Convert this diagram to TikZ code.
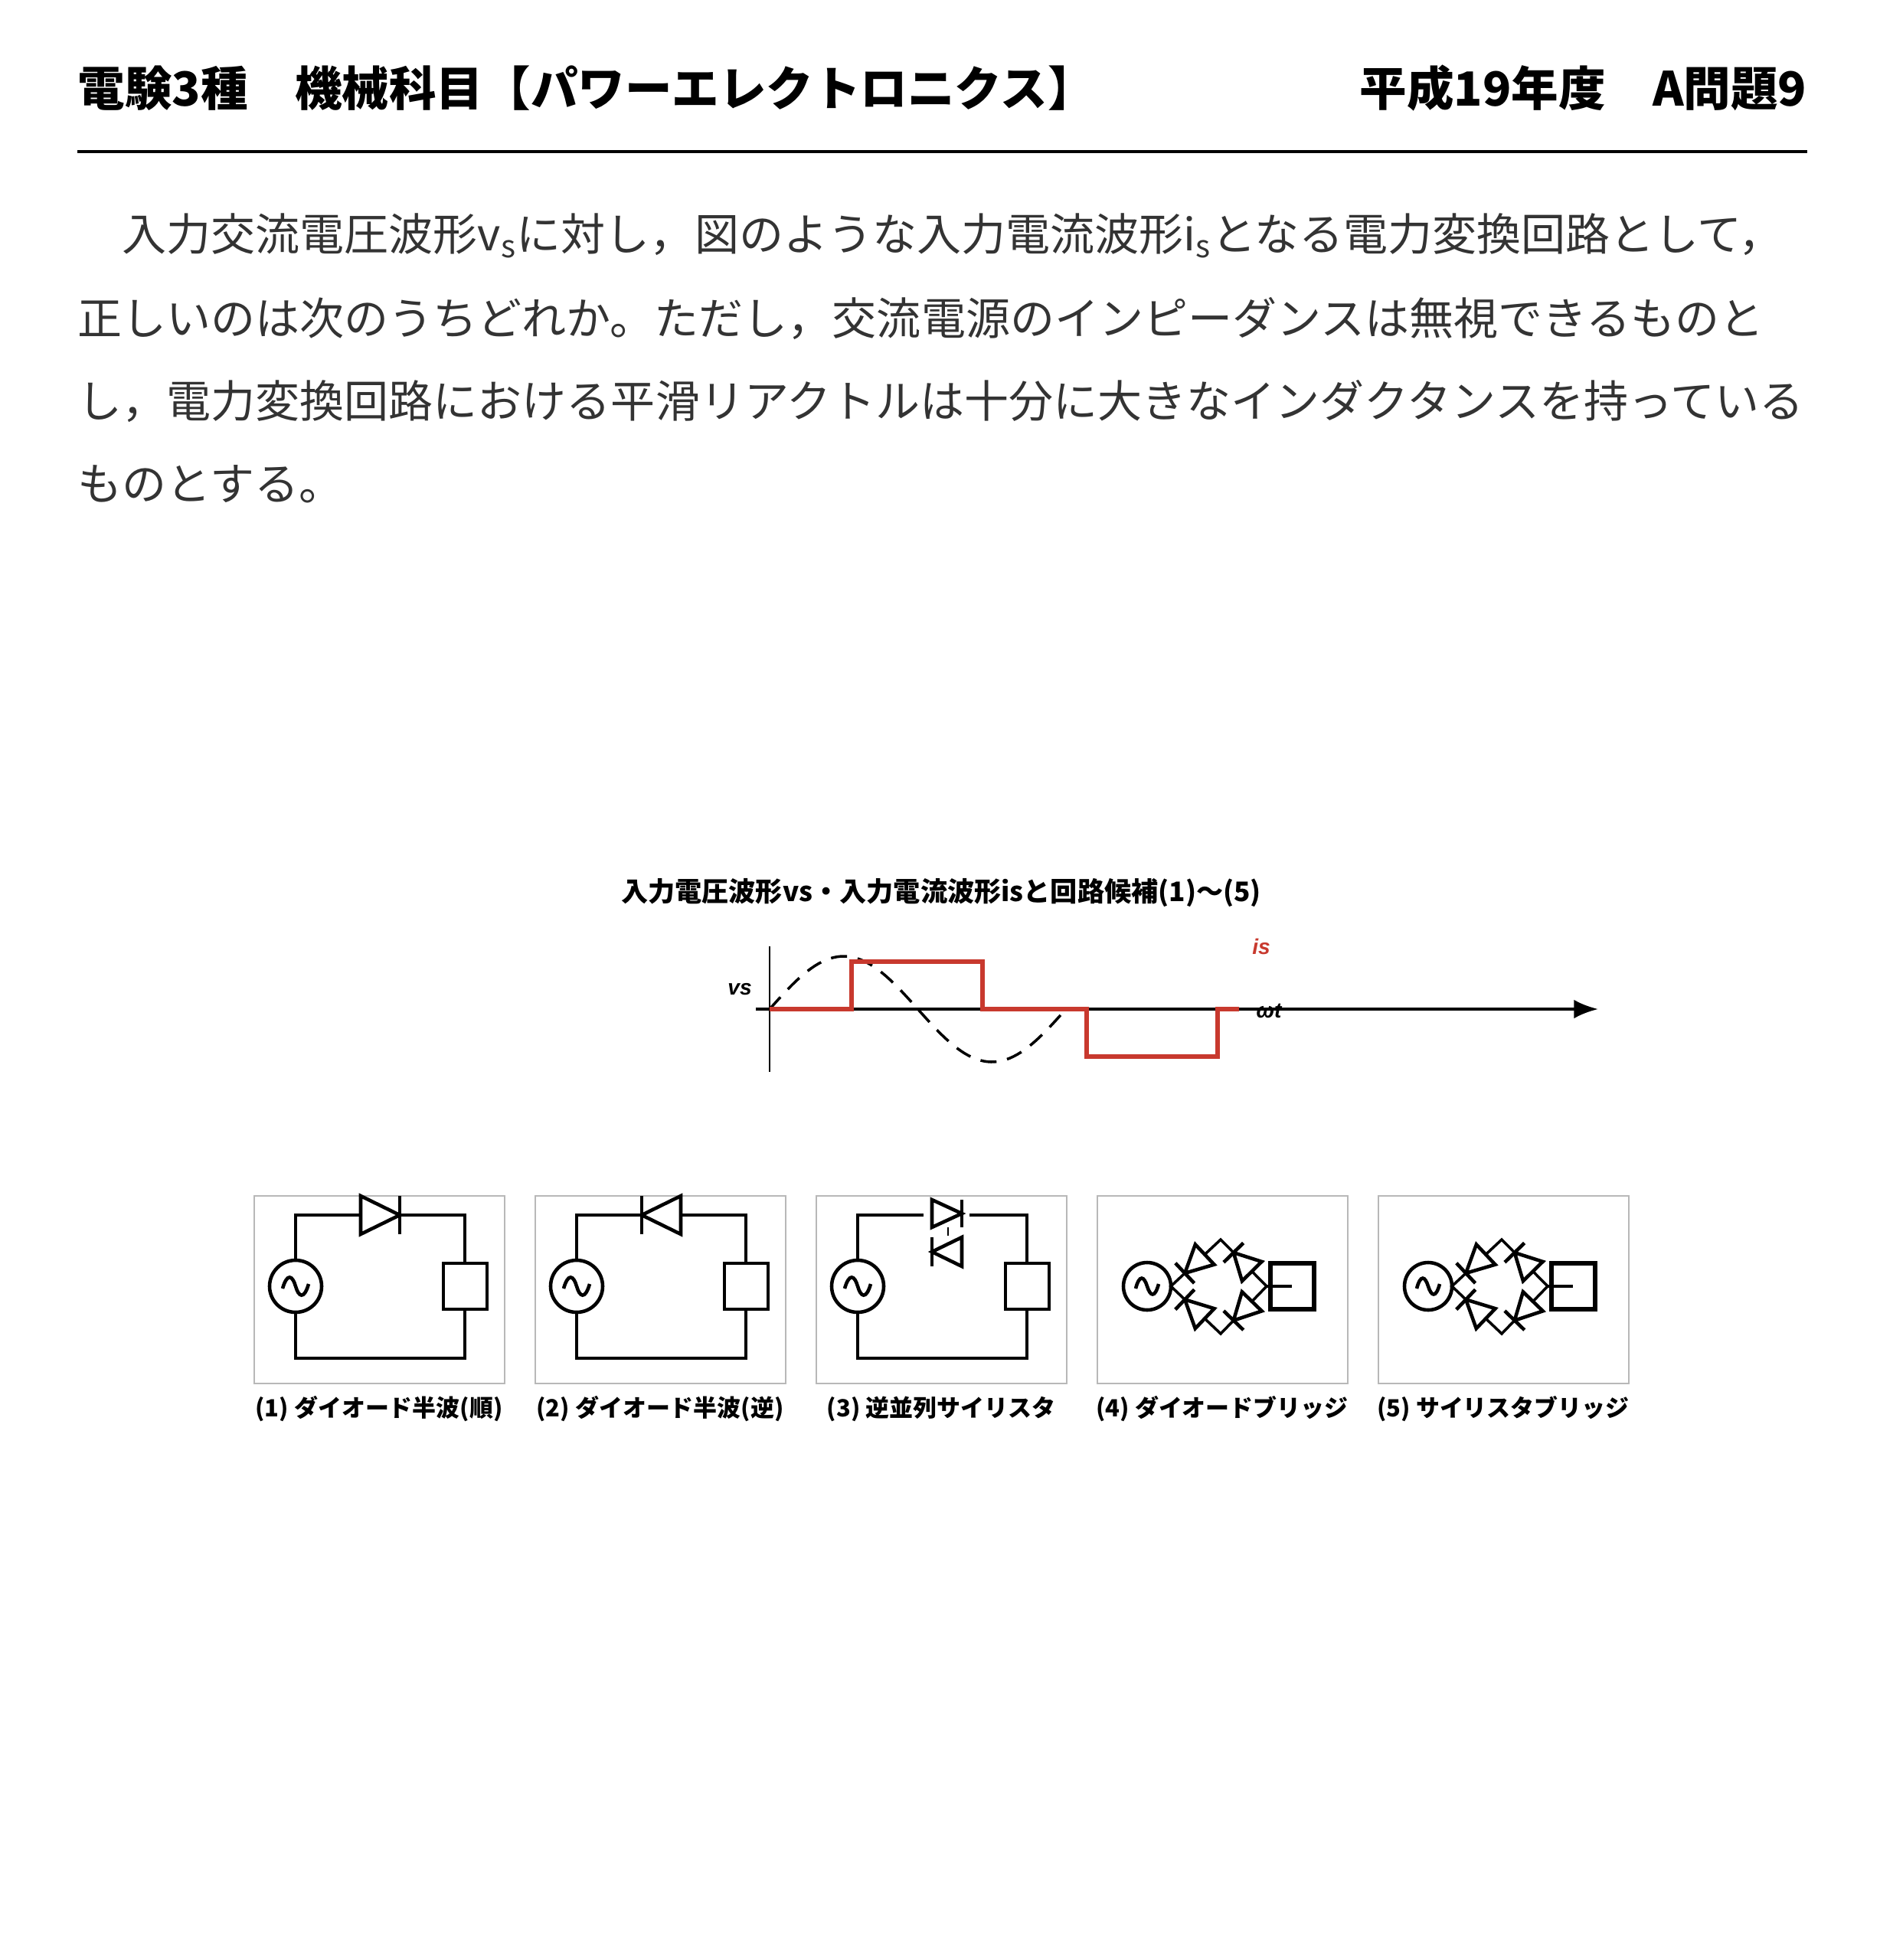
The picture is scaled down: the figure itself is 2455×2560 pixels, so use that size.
\documentclass[tikz,border=0pt]{standalone}
\usepackage{fontspec}
\setmainfont{Noto Sans CJK JP}
\newfontfamily\latinit{Liberation Sans}
\usetikzlibrary{calc,arrows.meta}
\definecolor{bodygray}{HTML}{333333}
\definecolor{isred}{HTML}{C8392E}
\newcommand\mydiode[5]{% bar-side point, other point, frac bar, frac base, half width
 \coordinate (dA) at ($(#1)!#3!(#2)$); \coordinate (dB) at ($(#1)!#4!(#2)$);
 \draw[ckt,fill=white] (dA) -- ($(dB)!#5!90:(dA)$) -- ($(dB)!#5!-90:(dA)$) -- cycle;
 \draw[ckt] ($(dA)!#5!90:(dB)$) -- ($(dA)!#5!-90:(dB)$);}
\begin{document}
\begin{tikzpicture}[x=0.01cm,y=-0.01cm,
 ckt/.style={line width=1.3pt,black,line join=miter},
 box/.style={draw=black!28,line width=0.8pt},
 lbl/.style={font=\fontsize{8.8pt}{10pt}\selectfont\bfseries,anchor=center},
 wlab/.style={font=\fontsize{8pt}{9pt}\selectfont\latinit\bfseries\itshape},
 body/.style={font=\fontsize{16.5pt}{20pt}\selectfont,text=bodygray,anchor=west,inner sep=0pt}]
\useasboundingbox (0,0) rectangle (2455,2560);
% header
\node[anchor=west,inner sep=0pt,font=\fontsize{17.5pt}{20pt}\selectfont\bfseries] (h1) at (101,115) {電験3種　機械科目【パワーエレクトロニクス】};
\node[anchor=east,inner sep=0pt,font=\fontsize{17.5pt}{20pt}\selectfont\bfseries] (h2) at (2360,115) {平成19年度　A問題9};
\draw[line width=1.4pt] (101,198) -- (2360,198);
% body
\node[body] (b1) at (101,308) {　入力交流電圧波形v\textsubscript{s}に対し，図のような入力電流波形i\textsubscript{s}となる電力変換回路として，};
\node[body] (b2) at (101,416) {正しいのは次のうちどれか。ただし，交流電源のインピーダンスは無視できるものと};
\node[body] (b3) at (101,524) {し，電力変換回路における平滑リアクトルは十分に大きなインダクタンスを持っている};
\node[body] (b4) at (101,632) {ものとする。};
% chart title
\node[font=\fontsize{10pt}{12pt}\selectfont\bfseries] (ttl) at (1229,1166) {入力電圧波形vs・入力電流波形isと回路候補(1)～(5)};
% waveform
\coordinate (vt) at (1005,1236); \coordinate (vb) at (1005,1400);
\coordinate (hl) at (987,1318); \coordinate (hr) at (2087,1318);
\draw[line width=0.8pt] (vt) -- (vb);
\draw[line width=1.2pt,-{Latex[length=9,width=7]}] (hl) -- (hr);
\draw[line width=1pt,dashed,dash pattern=on 6pt off 4pt] plot[domain=0:360,samples=80] ({1005+\x*1.075},{1318-69*sin(\x)});
\draw[isred,line width=1.5pt] (1005,1318) -- (1112,1318) -- (1112,1256) -- (1283,1256) -- (1283,1318) -- (1419,1318) -- (1419,1380) -- (1590,1380) -- (1590,1318) -- (1618,1318);
\node[wlab] (lvs) at (966,1292) {vs};
\node[wlab,text=isred] (lis) at (1647,1236) {is};
\node[wlab] (lwt) at (1657,1320) {ωt};
% circuit boxes
\foreach \k/\t in {0/(1) ダイオード半波(順),1/(2) ダイオード半波(逆),2/(3) 逆並列サイリスタ,3/(4) ダイオードブリッジ,4/(5) サイリスタブリッジ}{
 \draw[box] ({332+367*\k},1562) rectangle ({659+367*\k},1807);
 \node[lbl] at ({495+367*\k},1840) {\t};
}
% box 1,2,3 common
\foreach \k in {0,1,2}{
\begin{scope}[shift={({332+367*\k},1562)}]
 \draw[ckt] (54,84) -- (54,25) -- (275,25) -- (275,88);
 \draw[ckt] (54,152) -- (54,212) -- (275,212) -- (275,148);
 \draw[ckt] (54,118) circle (34);
 \draw[ckt] (37,121) .. controls (43,100) and (50,104) .. (54,118) .. controls (58,132) and (65,136) .. (71,115);
 \draw[ckt,fill=white] (247,88) rectangle (304,148);
\end{scope}}
\begin{scope}[shift={(332,1562)}]
 \coordinate (p1) at (190,25); \coordinate (q1) at (139,25);
 \mydiode{p1}{q1}{0}{1}{0.25cm}
\end{scope}
\begin{scope}[shift={(699,1562)}]
 \coordinate (p2) at (139,25); \coordinate (q2) at (190,25);
 \mydiode{p2}{q2}{0}{1}{0.25cm}
\end{scope}
\begin{scope}[shift={(1066,1562)}]
 \fill[white] (140,15) rectangle (200,35);
 \coordinate (p3) at (190,23); \coordinate (q3) at (151,23);
 \mydiode{p3}{q3}{0}{1}{0.18cm}
 \coordinate (p4) at (151,73); \coordinate (q4) at (190,73);
 \mydiode{p4}{q4}{0}{1}{0.19cm}
 \draw[ckt,line width=0.6pt,dashed,dash pattern=on 3pt off 3pt] (172,41) -- (172,60);
\end{scope}
% bridges
\foreach \k in {3,4}{
\begin{scope}[shift={({332+367*\k},1562)}]
 \coordinate (L) at (96,118); \coordinate (T) at (161,57);
 \coordinate (B) at (161,180); \coordinate (R) at (221,118);
 \draw[ckt] (65,118) circle (31);
 \draw[ckt] (50,121) .. controls (55,102) and (61,105) .. (65,118) .. controls (69,131) and (75,134) .. (80,115);
 \draw[ckt,line width=1pt] (L) -- (T) -- (R) -- (B) -- cycle;
 \draw[ckt,line width=1.5pt] (226,88) rectangle (283,148);
 \draw[ckt] (R) -- (254,118);
 \mydiode{L}{T}{0.28}{0.68}{0.18cm}
 \mydiode{L}{B}{0.28}{0.68}{0.18cm}
 \mydiode{T}{R}{0.28}{0.68}{0.18cm}
 \mydiode{B}{R}{0.28}{0.68}{0.18cm}
\end{scope}}
\end{tikzpicture}
\end{document}
